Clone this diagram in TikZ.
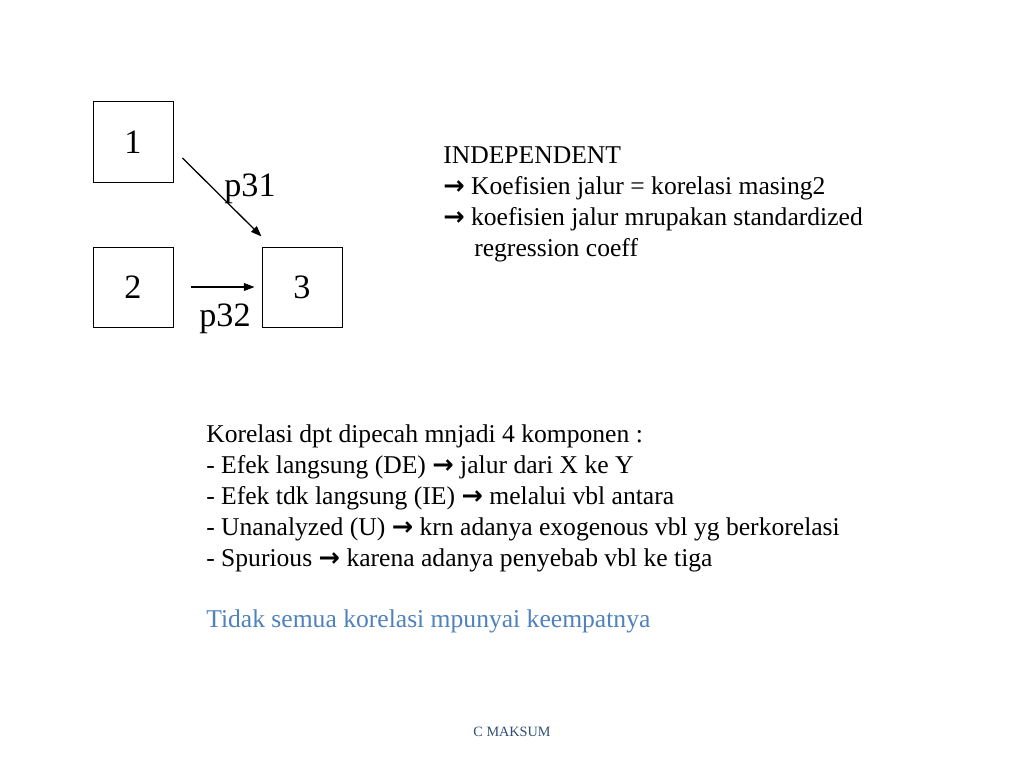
\documentclass[tikz,border=0pt]{standalone}
\usepackage{fontspec}
\setmainfont{Liberation Serif}
\newfontfamily\symfont{DejaVu Sans}
\usetikzlibrary{arrows.meta}

\definecolor{noteblue}{RGB}{79,129,189}
\newcommand{\ra}{{\symfont\bfseries\fontsize{18}{21.8}\selectfont →}}

\tikzset{
  varbox/.style={draw, line width=0.7pt, minimum size=56.25pt, inner sep=0pt, font=\fontsize{24}{28}\selectfont},
  pathlbl/.style={inner sep=0pt, font=\fontsize{24}{28}\selectfont},
  txt/.style={anchor=base west, inner sep=0pt, font=\fontsize{18}{21.8}\selectfont},
  pathline/.style={line width=0.9pt, -{Triangle[length=7.5pt,width=5.5pt]}}
}

\begin{document}
\begin{tikzpicture}[x=0.703125pt, y=-0.703125pt]
  \useasboundingbox (0,0) rectangle (1024,768);
  % path diagram
  \node[varbox] (b1) at (133,142) {1};
  \node[varbox] (b2) at (133,287) {2};
  \node[varbox] (b3) at (302,287) {3};
  \draw[pathline] ([shift={(9,16)}]b1.east) -- ([shift={(0,-10)}]b3.north west);
  \draw[pathline] ([shift={(17,0)}]b2.east) -- ([shift={(-7,0)}]b3.west);
  \node[pathlbl] (p31) at (250,189) {p31};
  \node[pathlbl] (p32) at (225,319) {p32};

  % notes on the right
  \node[txt] (ind) at (443,164) {INDEPENDENT};
  \node[txt] (ind1) at (443,195) {\ra\ Koefisien jalur = korelasi masing2};
  \node[txt] (ind2) at (443,226) {\ra\ koefisien jalur mrupakan standardized};
  \node[txt] (ind3) at (474,257) {regression coeff};

  % components of correlation
  \node[txt] (kor) at (206,442) {Korelasi dpt dipecah mnjadi 4 komponen :};
  \node[txt] (kor1) at (206,473) {- Efek langsung (DE) \ra\ jalur dari X ke Y};
  \node[txt] (kor2) at (206,504) {- Efek tdk langsung (IE) \ra\ melalui vbl antara};
  \node[txt] (kor3) at (206,535) {- Unanalyzed (U) \ra\ krn adanya exogenous vbl yg berkorelasi};
  \node[txt] (kor4) at (206,566) {- Spurious \ra\ karena adanya penyebab vbl ke tiga};
  \node[txt, text=noteblue] (note) at (206,627) {Tidak semua korelasi mpunyai keempatnya};

  \node[anchor=base, inner sep=0pt, font=\fontsize{10}{12}\selectfont, text=noteblue!60!black] (auth) at (512,736) {C MAKSUM};
\end{tikzpicture}
\end{document}
